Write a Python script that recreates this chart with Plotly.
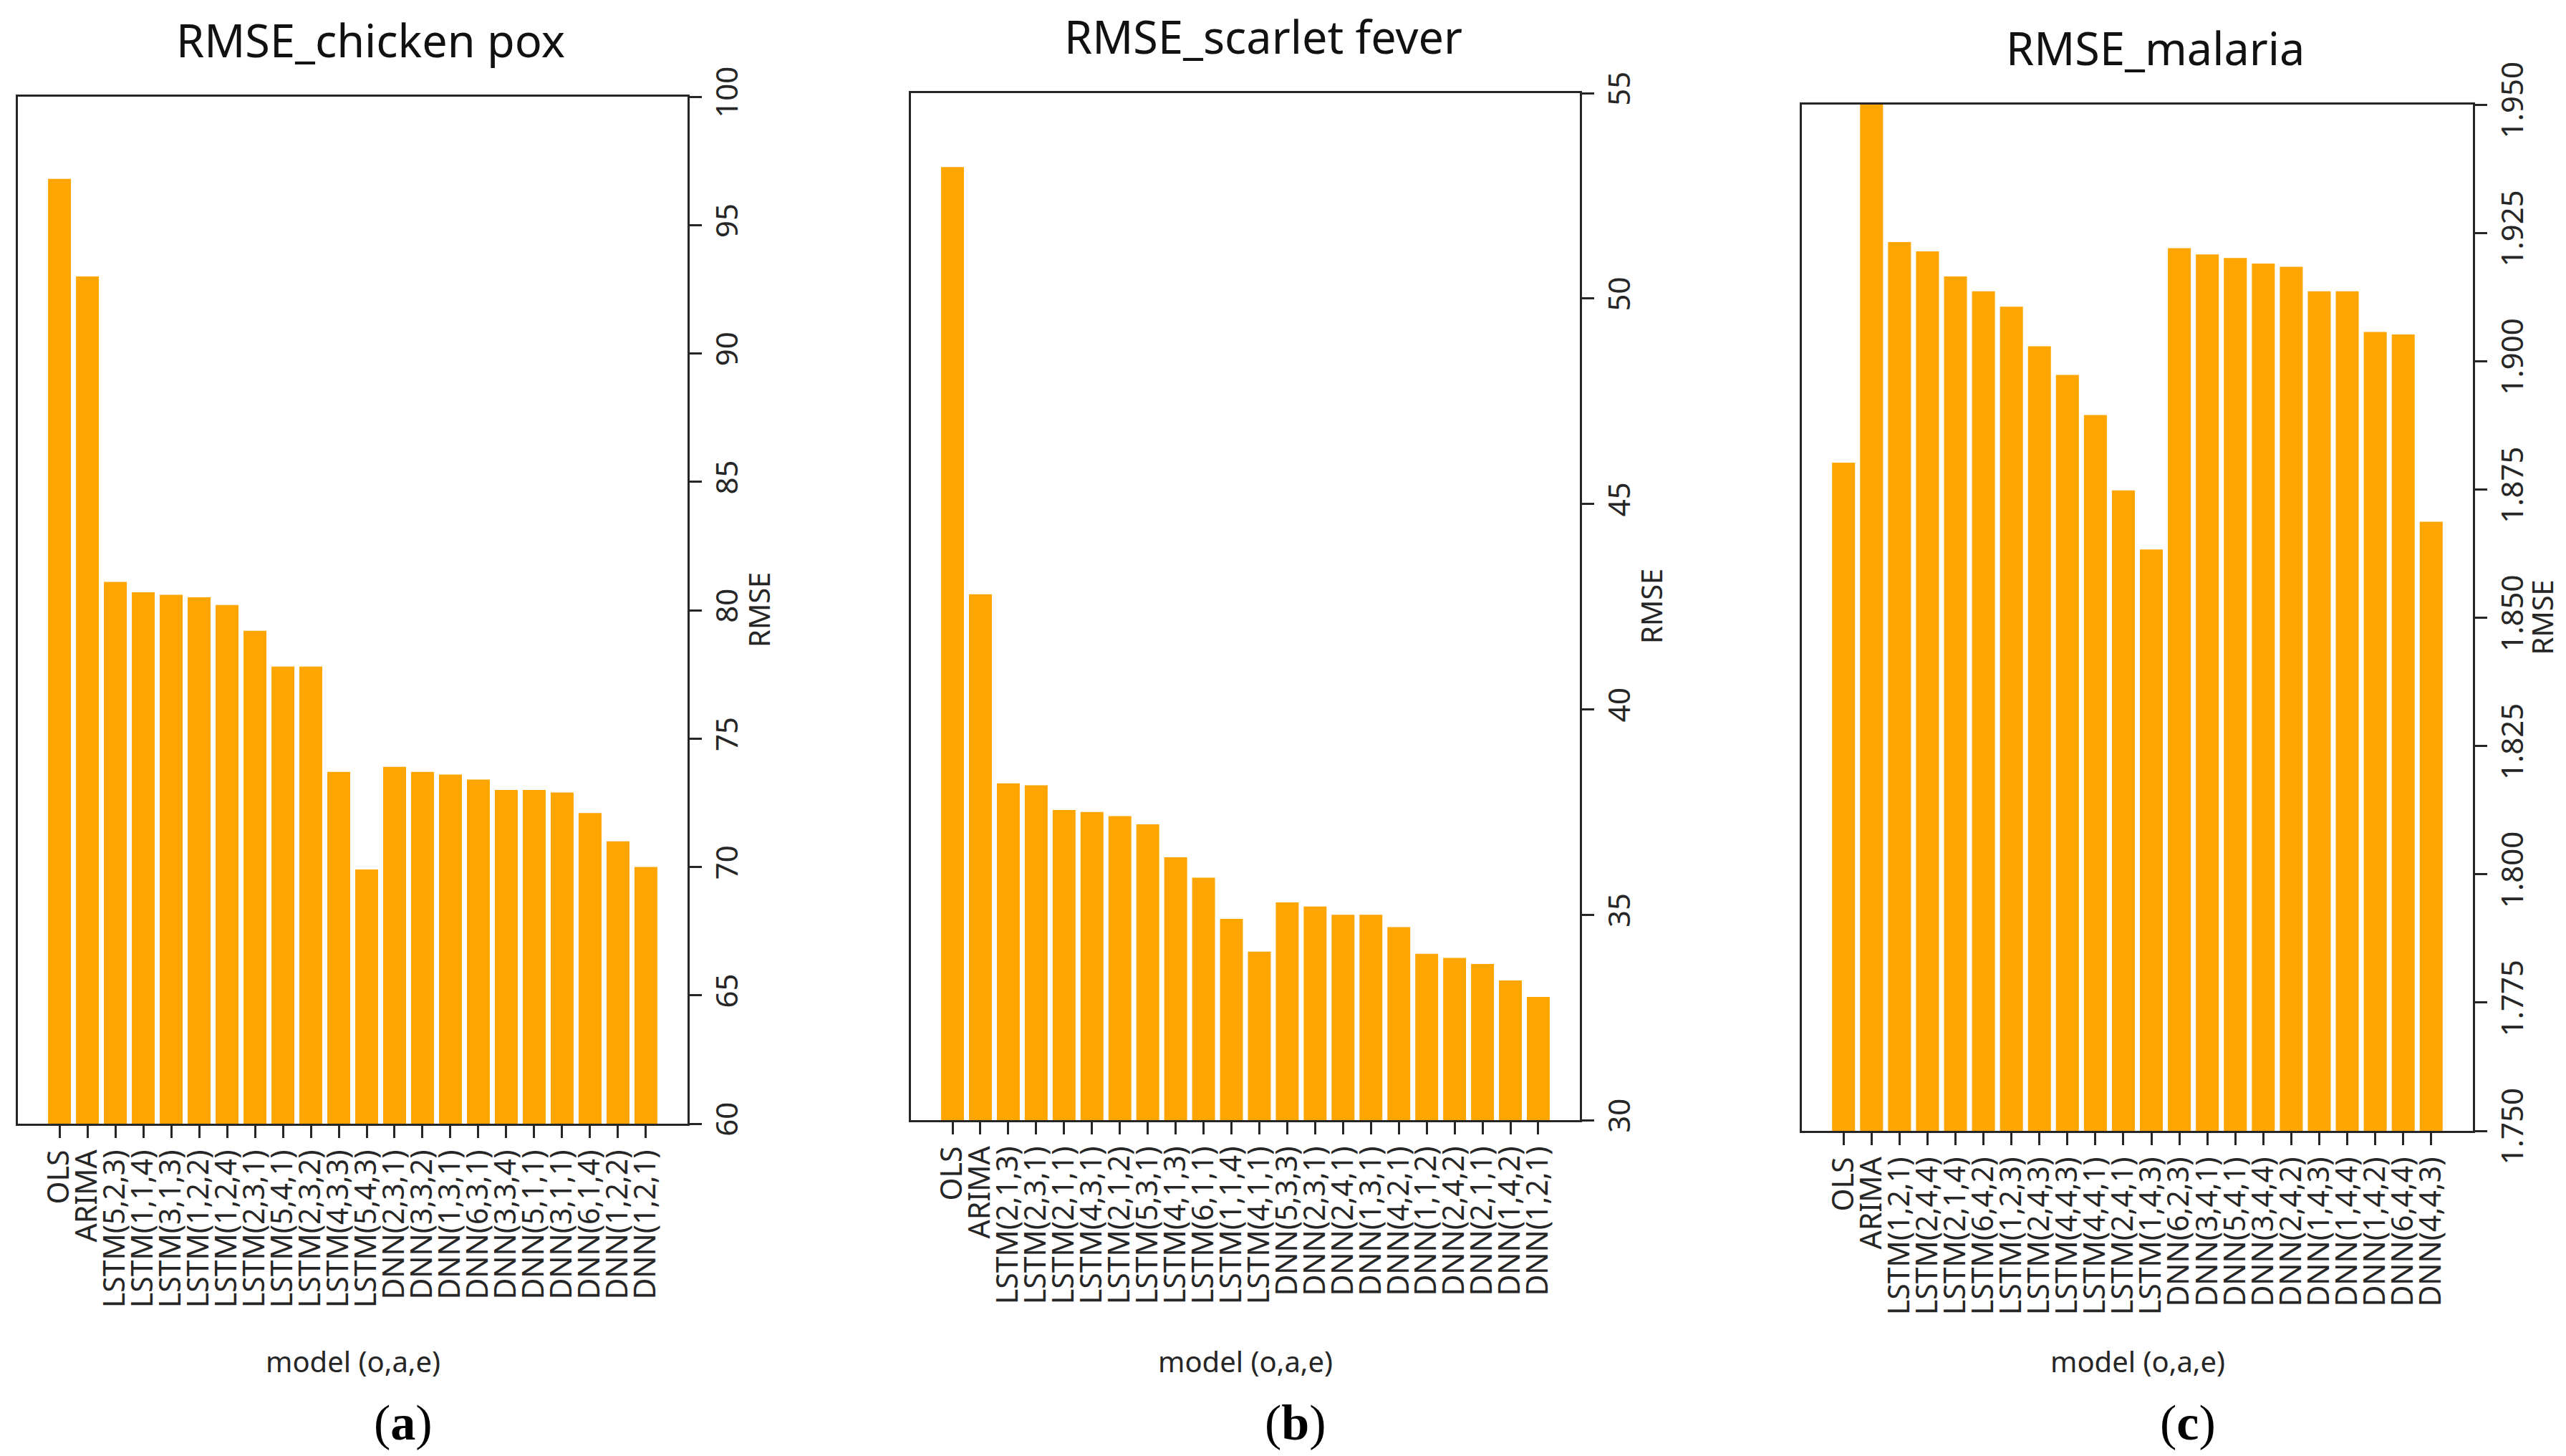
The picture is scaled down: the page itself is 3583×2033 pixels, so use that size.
import plotly.graph_objects as go
from plotly.subplots import make_subplots

# model labels (o,a,e) for each disease, in plotted order
models_pox = ['OLS', 'ARIMA',
              'LSTM(5,2,3)', 'LSTM(1,1,4)', 'LSTM(3,1,3)', 'LSTM(1,2,2)', 'LSTM(1,2,4)',
              'LSTM(2,3,1)', 'LSTM(5,4,1)', 'LSTM(2,3,2)', 'LSTM(4,3,3)', 'LSTM(5,4,3)',
              'DNN(2,3,1)', 'DNN(3,3,2)', 'DNN(1,3,1)', 'DNN(6,3,1)', 'DNN(3,3,4)',
              'DNN(5,1,1)', 'DNN(3,1,1)', 'DNN(6,1,4)', 'DNN(1,2,2)', 'DNN(1,2,1)']
rmse_pox = [96.8, 93.0, 81.1, 80.7, 80.6, 80.5, 80.2, 79.2, 77.8, 77.8, 73.7, 69.9,
            73.9, 73.7, 73.6, 73.4, 73.0, 73.0, 72.9, 72.1, 71.0, 70.0]

models_scarlet = ['OLS', 'ARIMA',
                  'LSTM(2,1,3)', 'LSTM(2,3,1)', 'LSTM(2,1,1)', 'LSTM(4,3,1)', 'LSTM(2,1,2)',
                  'LSTM(5,3,1)', 'LSTM(4,1,3)', 'LSTM(6,1,1)', 'LSTM(1,1,4)', 'LSTM(4,1,1)',
                  'DNN(5,3,3)', 'DNN(2,3,1)', 'DNN(2,4,1)', 'DNN(1,3,1)', 'DNN(4,2,1)',
                  'DNN(1,1,2)', 'DNN(2,4,2)', 'DNN(2,1,1)', 'DNN(1,4,2)', 'DNN(1,2,1)']
rmse_scarlet = [53.2, 42.8, 38.2, 38.15, 37.55, 37.5, 37.4, 37.2, 36.4, 35.9, 34.9, 34.1,
                35.3, 35.2, 35.0, 35.0, 34.7, 34.05, 33.95, 33.8, 33.4, 33.0]

models_malaria = ['OLS', 'ARIMA',
                  'LSTM(1,2,1)', 'LSTM(2,4,4)', 'LSTM(2,1,4)', 'LSTM(6,4,2)', 'LSTM(1,2,3)',
                  'LSTM(2,4,3)', 'LSTM(4,4,3)', 'LSTM(4,4,1)', 'LSTM(2,4,1)', 'LSTM(1,4,3)',
                  'DNN(6,2,3)', 'DNN(3,4,1)', 'DNN(5,4,1)', 'DNN(3,4,4)', 'DNN(2,4,2)',
                  'DNN(1,4,3)', 'DNN(1,4,4)', 'DNN(1,4,2)', 'DNN(6,4,4)', 'DNN(4,4,3)']
rmse_malaria = [1.8802, 1.9560, 1.9232, 1.9214, 1.9165, 1.9136, 1.9106, 1.9029, 1.8973,
                1.8895, 1.8748, 1.8633, 1.9220, 1.9208, 1.9201, 1.9190, 1.9184, 1.9136,
                1.9136, 1.9057, 1.9052, 1.8687]

titles = ['RMSE_chicken pox', 'RMSE_scarlet fever', 'RMSE_malaria']
captions = ['a', 'b', 'c']

W, H = 3583, 2033
FONT = 'Noto Sans'
TXT = '#262626'
BAR = '#FFA500'

fig = make_subplots(rows=1, cols=3)

# pixel boxes of each panel: left, right, top, bottom, and the offset of the RMSE label
panels = [
    (models_pox, rmse_pox, [60, 100], 5, None, (17, 952, 127, 1561), 100),
    (models_scarlet, rmse_scarlet, [30, 55], 5, None, (1264, 2198, 122, 1556), 100),
    (models_malaria, rmse_malaria, [1.75, 1.95], 0.025, '.3f', (2508, 3445, 138, 1571), 96),
]


def px_x(v):
    return v / W


def px_y(v):
    return 1 - v / H


def label(text, x, y, size, family=FONT, color=TXT, angle=0):
    return dict(text=text, x=px_x(x), y=px_y(y), xref='paper', yref='paper',
                xanchor='center', yanchor='middle', showarrow=False, textangle=angle,
                font=dict(family=family, size=size, color=color))


annotations = []
for i, (names, vals, yr, dt, fmt, box, off) in enumerate(panels):
    col = i + 1
    left, right, top, bottom = box
    fig.add_trace(go.Bar(x=names, y=vals, marker_color=BAR, marker_line_width=0,
                         showlegend=False), row=1, col=col)
    fig.update_xaxes(domain=[px_x(left), px_x(right)], type='category',
                     range=[-1.49, len(names) - 1 + 1.49], dtick=1, automargin=False,
                     tickangle=-90, ticks='outside', ticklen=17, tickwidth=3,
                     tickcolor=TXT, showline=True, linewidth=3, linecolor=TXT,
                     mirror=True, showgrid=False,
                     tickfont=dict(family=FONT, size=41, color=TXT),
                     row=1, col=col)
    fig.update_yaxes(domain=[px_y(bottom), px_y(top)], range=yr, dtick=dt,
                     tickformat=fmt, side='right', tickangle=-90, ticks='outside',
                     ticklen=17, tickwidth=3, tickcolor=TXT, showline=True,
                     linewidth=3, linecolor=TXT, mirror=True, showgrid=False,
                     zeroline=False, automargin=False,
                     tickfont=dict(family=FONT, size=42, color=TXT),
                     row=1, col=col)
    mid_x = (left + right) / 2
    annotations.append(label(titles[i], mid_x + 25, 48 + (top - 127), 63, color='#111111'))
    annotations.append(label('RMSE', right + off, (top + bottom) / 2, 40, angle=-90))
    annotations.append(label('model (o,a,e)', mid_x, 1892, 40))
    annotations.append(label('(<b>' + captions[i] + '</b>)', mid_x + 70, 1978, 70,
                             family='Liberation Serif', color='#000000'))

fig.update_layout(width=W, height=H, margin=dict(l=0, r=0, t=0, b=0),
                  paper_bgcolor='white', plot_bgcolor='white', bargap=0.18,
                  annotations=annotations)

fig.write_html("out.html")
